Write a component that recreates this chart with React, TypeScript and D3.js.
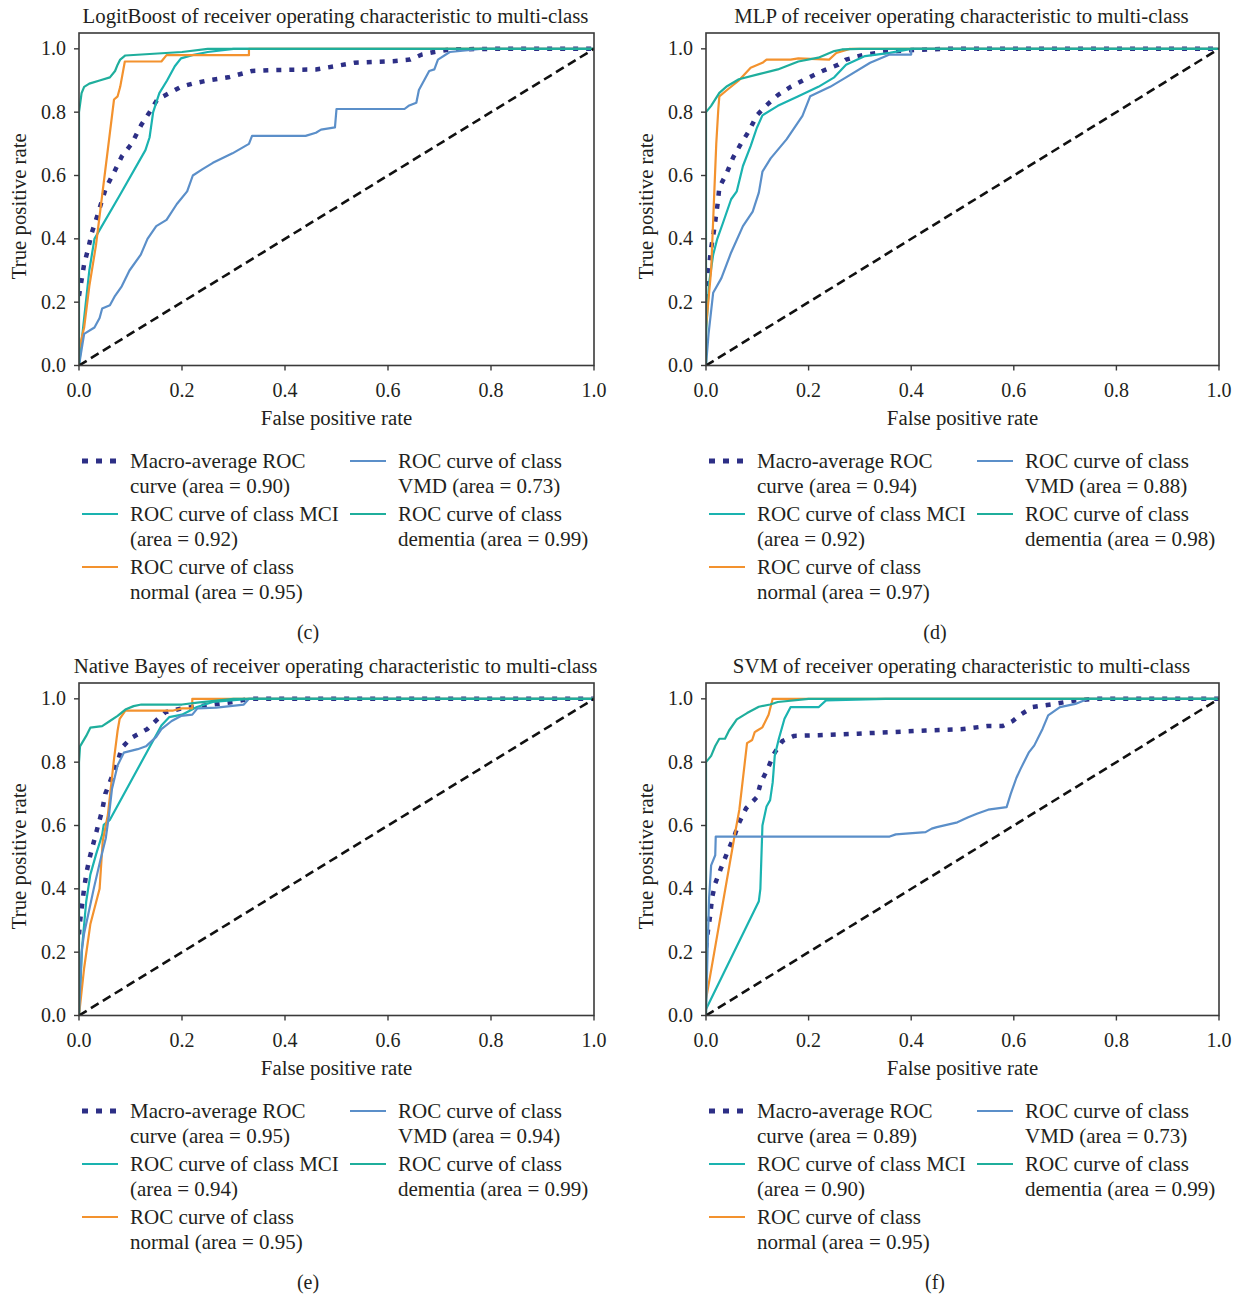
import * as d3 from 'd3';

type Pt = [number, number];

// ---- data: ROC points [fpr, tpr] ----
const diagonal: Pt[] = [[0, 0], [1, 1]];

// (c) LogitBoost
const logitMacro: Pt[] = [[0, 0.22], [0.005, 0.27], [0.01, 0.32], [0.018, 0.37], [0.025, 0.42], [0.035, 0.47], [0.052, 0.56], [0.068, 0.61], [0.083, 0.66], [0.102, 0.7], [0.121, 0.76], [0.137, 0.8], [0.152, 0.84], [0.175, 0.86], [0.198, 0.88], [0.22, 0.89], [0.25, 0.9], [0.29, 0.91], [0.336, 0.93], [0.38, 0.933], [0.46, 0.935], [0.5, 0.946], [0.535, 0.956], [0.61, 0.961], [0.643, 0.966], [0.666, 0.982], [0.69, 0.99], [0.72, 0.998], [0.8, 1], [1, 1]];
const logitMCI: Pt[] = [[0, 0], [0.01, 0.15], [0.02, 0.3], [0.03, 0.4], [0.08, 0.54], [0.129, 0.68], [0.137, 0.72], [0.144, 0.8], [0.156, 0.86], [0.171, 0.9], [0.186, 0.945], [0.198, 0.97], [0.22, 0.98], [0.25, 0.99], [0.3, 1], [1, 1]];
const logitNormal: Pt[] = [[0, 0], [0, 0.05], [0.01, 0.12], [0.02, 0.25], [0.033, 0.38], [0.068, 0.84], [0.075, 0.85], [0.08, 0.88], [0.089, 0.96], [0.16, 0.96], [0.17, 0.98], [0.33, 0.98], [0.33, 1], [1, 1]];
const logitVMD: Pt[] = [[0, 0], [0.005, 0.05], [0.01, 0.1], [0.03, 0.12], [0.04, 0.15], [0.045, 0.18], [0.06, 0.19], [0.07, 0.22], [0.083, 0.25], [0.098, 0.3], [0.12, 0.35], [0.133, 0.4], [0.15, 0.44], [0.17, 0.46], [0.19, 0.51], [0.21, 0.55], [0.221, 0.6], [0.24, 0.62], [0.26, 0.64], [0.298, 0.67], [0.33, 0.7], [0.336, 0.725], [0.44, 0.725], [0.46, 0.735], [0.47, 0.745], [0.497, 0.752], [0.5, 0.81], [0.632, 0.81], [0.64, 0.82], [0.655, 0.83], [0.66, 0.87], [0.68, 0.93], [0.69, 0.935], [0.697, 0.966], [0.72, 0.99], [0.78, 1], [1, 1]];
const logitDementia: Pt[] = [[0, 0], [0, 0.8], [0.005, 0.86], [0.01, 0.88], [0.02, 0.89], [0.04, 0.9], [0.06, 0.91], [0.07, 0.93], [0.075, 0.95], [0.08, 0.966], [0.09, 0.979], [0.2, 0.99], [0.25, 1], [1, 1]];

// (d) MLP
const mlpMacro: Pt[] = [[0, 0.21], [0.005, 0.3], [0.01, 0.37], [0.015, 0.42], [0.019, 0.467], [0.023, 0.515], [0.026, 0.562], [0.041, 0.61], [0.053, 0.657], [0.068, 0.7], [0.084, 0.741], [0.099, 0.79], [0.118, 0.822], [0.14, 0.854], [0.165, 0.88], [0.196, 0.906], [0.227, 0.93], [0.258, 0.95], [0.273, 0.966], [0.31, 0.982], [0.366, 0.993], [0.46, 1], [1, 1]];
const mlpMCI: Pt[] = [[0, 0], [0, 0.1], [0.006, 0.26], [0.014, 0.35], [0.022, 0.4], [0.033, 0.45], [0.049, 0.525], [0.06, 0.55], [0.072, 0.63], [0.087, 0.693], [0.099, 0.75], [0.11, 0.79], [0.14, 0.82], [0.18, 0.85], [0.219, 0.88], [0.25, 0.91], [0.273, 0.95], [0.31, 0.977], [0.358, 0.987], [0.4, 1], [1, 1]];
const mlpNormal: Pt[] = [[0, 0], [0, 0.12], [0.01, 0.3], [0.015, 0.5], [0.02, 0.7], [0.024, 0.81], [0.026, 0.85], [0.041, 0.87], [0.064, 0.9], [0.087, 0.94], [0.11, 0.956], [0.118, 0.966], [0.165, 0.966], [0.18, 0.97], [0.24, 0.966], [0.254, 0.987], [0.28, 1], [1, 1]];
const mlpVMD: Pt[] = [[0, 0], [0.005, 0.1], [0.014, 0.23], [0.03, 0.276], [0.049, 0.357], [0.072, 0.44], [0.091, 0.486], [0.103, 0.546], [0.11, 0.612], [0.126, 0.654], [0.157, 0.714], [0.188, 0.788], [0.203, 0.85], [0.242, 0.88], [0.273, 0.91], [0.32, 0.956], [0.358, 0.982], [0.4, 0.982], [0.4, 1], [1, 1]];
const mlpDementia: Pt[] = [[0, 0], [0, 0.8], [0.01, 0.82], [0.026, 0.861], [0.041, 0.882], [0.064, 0.904], [0.103, 0.92], [0.14, 0.935], [0.18, 0.96], [0.219, 0.972], [0.25, 0.993], [0.265, 0.998], [0.3, 1], [1, 1]];

// (e) Naive Bayes
const nbMacro: Pt[] = [[0, 0.256], [0.002, 0.296], [0.006, 0.35], [0.01, 0.403], [0.015, 0.455], [0.021, 0.5], [0.029, 0.55], [0.037, 0.6], [0.045, 0.647], [0.051, 0.7], [0.075, 0.8], [0.083, 0.846], [0.102, 0.877], [0.133, 0.905], [0.152, 0.935], [0.168, 0.958], [0.2, 0.97], [0.25, 0.98], [0.3, 0.99], [0.33, 1], [1, 1]];
const nbMCI: Pt[] = [[0, 0], [0.006, 0.215], [0.014, 0.36], [0.022, 0.445], [0.033, 0.508], [0.045, 0.571], [0.048, 0.602], [0.06, 0.618], [0.16, 0.916], [0.175, 0.942], [0.2, 0.95], [0.229, 0.974], [0.26, 0.99], [0.33, 1], [1, 1]];
const nbNormal: Pt[] = [[0, 0], [0.01, 0.15], [0.022, 0.288], [0.04, 0.4], [0.046, 0.55], [0.056, 0.633], [0.068, 0.81], [0.075, 0.9], [0.079, 0.937], [0.09, 0.963], [0.183, 0.963], [0.2, 0.97], [0.22, 0.97], [0.22, 1], [1, 1]];
const nbVMD: Pt[] = [[0, 0], [0.005, 0.2], [0.01, 0.26], [0.018, 0.32], [0.029, 0.403], [0.041, 0.487], [0.052, 0.56], [0.058, 0.63], [0.064, 0.715], [0.075, 0.79], [0.087, 0.83], [0.114, 0.841], [0.13, 0.85], [0.15, 0.88], [0.16, 0.904], [0.18, 0.93], [0.198, 0.946], [0.22, 0.95], [0.23, 0.97], [0.267, 0.972], [0.32, 0.982], [0.33, 1], [1, 1]];
const nbDementia: Pt[] = [[0, 0], [0, 0.8], [0.002, 0.85], [0.014, 0.883], [0.022, 0.909], [0.045, 0.914], [0.06, 0.93], [0.075, 0.946], [0.09, 0.966], [0.106, 0.977], [0.121, 0.982], [0.2, 0.982], [0.23, 0.988], [0.3, 1], [1, 1]];

// (f) SVM
const svmMacro: Pt[] = [[0, 0.215], [0.004, 0.27], [0.0085, 0.319], [0.0116, 0.37], [0.018, 0.417], [0.029, 0.464], [0.041, 0.513], [0.056, 0.57], [0.064, 0.607], [0.078, 0.654], [0.099, 0.689], [0.107, 0.736], [0.12, 0.778], [0.132, 0.825], [0.149, 0.867], [0.172, 0.883], [0.22, 0.885], [0.296, 0.89], [0.428, 0.9], [0.497, 0.904], [0.548, 0.914], [0.578, 0.914], [0.598, 0.93], [0.613, 0.95], [0.637, 0.974], [0.679, 0.984], [0.72, 0.995], [0.76, 1], [1, 1]];
const svmMCI: Pt[] = [[0, 0.02], [0.103, 0.361], [0.106, 0.4], [0.11, 0.6], [0.118, 0.66], [0.125, 0.68], [0.13, 0.736], [0.134, 0.82], [0.142, 0.874], [0.153, 0.937], [0.165, 0.974], [0.22, 0.974], [0.234, 0.995], [0.35, 1], [1, 1]];
const svmNormal: Pt[] = [[0, 0], [0, 0.05], [0.056, 0.57], [0.065, 0.65], [0.08, 0.86], [0.09, 0.87], [0.095, 0.895], [0.1, 0.9], [0.11, 0.91], [0.122, 0.95], [0.13, 1], [1, 1]];
const svmVMD: Pt[] = [[0, 0], [0.003, 0.2], [0.006, 0.37], [0.01, 0.474], [0.018, 0.506], [0.019, 0.565], [0.358, 0.565], [0.37, 0.572], [0.428, 0.579], [0.44, 0.59], [0.45, 0.595], [0.49, 0.61], [0.51, 0.625], [0.528, 0.637], [0.55, 0.65], [0.586, 0.658], [0.594, 0.7], [0.605, 0.75], [0.613, 0.778], [0.629, 0.83], [0.64, 0.853], [0.656, 0.905], [0.667, 0.948], [0.69, 0.974], [0.72, 0.984], [0.745, 1], [1, 1]];
const svmDementia: Pt[] = [[0, 0], [0, 0.8], [0.01, 0.82], [0.018, 0.851], [0.026, 0.874], [0.037, 0.874], [0.045, 0.9], [0.06, 0.935], [0.08, 0.955], [0.103, 0.975], [0.125, 0.982], [0.14, 0.99], [0.2, 1], [1, 1]];

const panelTitles = [
  'LogitBoost of receiver operating characteristic to multi-class',
  'MLP of receiver operating characteristic to multi-class',
  'Native Bayes of receiver operating characteristic to multi-class',
  'SVM of receiver operating characteristic to multi-class',
];
const panelCaptions = ['(c)', '(d)', '(e)', '(f)'];
const macroAreas = ['0.90', '0.94', '0.95', '0.89'];
const mciAreas = ['0.92', '0.92', '0.94', '0.90'];
const normalAreas = ['0.95', '0.97', '0.95', '0.95'];
const vmdAreas = ['0.73', '0.88', '0.94', '0.73'];
const dementiaAreas = ['0.99', '0.98', '0.99', '0.99'];
const tickValues = [0, 0.2, 0.4, 0.6, 0.8, 1.0];

const panelCurves = [
  [logitMacro, logitMCI, logitNormal, logitVMD, logitDementia],
  [mlpMacro, mlpMCI, mlpNormal, mlpVMD, mlpDementia],
  [nbMacro, nbMCI, nbNormal, nbVMD, nbDementia],
  [svmMacro, svmMCI, svmNormal, svmVMD, svmDementia],
];

const colors = {
  macro: '#2d2f86',
  mci: '#1ab3b0',
  normal: '#f3922e',
  vmd: '#5b8fc9',
  dementia: '#1fae9c',
};
const curveColors = [colors.macro, colors.mci, colors.normal, colors.vmd, colors.dementia];

const FONT = '"Liberation Serif", "DejaVu Serif", serif';
const TEXT = '#231f20';

function RocPanel({ idx, left, right, top, bottom }: { idx: number; left: number; right: number; top: number; bottom: number }) {
  const x = d3.scaleLinear().domain([0, 1]).range([left, right]);
  const y = d3.scaleLinear().domain([0, 1.05]).range([bottom, top]);
  const line = d3.line<Pt>().x(d => x(d[0])).y(d => y(d[1]));
  const curves = panelCurves[idx];
  const cx = (left + right) / 2;

  // legend entries: [color, dotted, line1, line2]
  const legend: [string, boolean, string, string][] = [
    [colors.macro, true, 'Macro-average ROC', `curve (area = ${macroAreas[idx]})`],
    [colors.mci, false, 'ROC curve of class MCI', `(area = ${mciAreas[idx]})`],
    [colors.normal, false, 'ROC curve of class', `normal (area = ${normalAreas[idx]})`],
    [colors.vmd, false, 'ROC curve of class', `VMD (area = ${vmdAreas[idx]})`],
    [colors.dementia, false, 'ROC curve of class', `dementia (area = ${dementiaAreas[idx]})`],
  ];
  const legTop = bottom + 95.5;
  const rowStep = 53;
  const lineStep = 25.5;

  return (
    <g fontFamily={FONT} fill={TEXT}>
      <text x={cx - 1} y={top - 10} textAnchor="middle" fontSize={20.8}>{panelTitles[idx]}</text>

      <clipPath id={`clip${idx}`}>
        <rect x={left} y={top} width={right - left} height={bottom - top} />
      </clipPath>
      <g clipPath={`url(#clip${idx})`}>
        {curves.map((pts, i) => (
          <path key={i} d={line(pts) ?? ''} fill="none" stroke={curveColors[i]}
            strokeWidth={i === 0 ? 4.5 : 2.2}
            strokeDasharray={i === 0 ? '5,8' : undefined}
            strokeLinejoin="round" />
        ))}
        <path d={line(diagonal) ?? ''} fill="none" stroke="#111" strokeWidth={2.6} strokeDasharray="9,5" />
      </g>

      <rect x={left} y={top} width={right - left} height={bottom - top} fill="none" stroke="#3a3a3a" strokeWidth={1.6} />

      {tickValues.map(t => (
        <g key={`x${t}`}>
          <line x1={x(t)} x2={x(t)} y1={bottom} y2={bottom + 5} stroke="#3a3a3a" strokeWidth={1.4} />
          <text x={x(t)} y={bottom + 31} textAnchor="middle" fontSize={20}>{d3.format('.1f')(t)}</text>
        </g>
      ))}
      {tickValues.map(t => (
        <g key={`y${t}`}>
          <line x1={left - 5} x2={left} y1={y(t)} y2={y(t)} stroke="#3a3a3a" strokeWidth={1.4} />
          <text x={left - 13} y={y(t)} dy="0.33em" textAnchor="end" fontSize={20}>{d3.format('.1f')(t)}</text>
        </g>
      ))}

      <text x={cx} y={bottom + 59} textAnchor="middle" fontSize={20.8}>False positive rate</text>
      <text transform={`translate(${left - 53},${(top + bottom) / 2 + 7}) rotate(-90)`} textAnchor="middle" fontSize={20.8}>True positive rate</text>

      {legend.map(([c, dotted, l1, l2], i) => {
        const col = i < 3 ? 0 : 1;
        const row = i < 3 ? i : i - 3;
        const mx = left + 3 + col * 268;
        const my = legTop + row * rowStep;
        return (
          <g key={i}>
            <line x1={mx} x2={mx + 36} y1={my} y2={my} stroke={c}
              strokeWidth={dotted ? 5 : 2.2} strokeDasharray={dotted ? '6,8' : undefined} />
            <text x={mx + 48} y={my} dy="0.32em" fontSize={21}>{l1}</text>
            <text x={mx + 48} y={my + lineStep} dy="0.32em" fontSize={21}>{l2}</text>
          </g>
        );
      })}

      <text x={left + 229} y={bottom + 267} dy="0.32em" textAnchor="middle" fontSize={20}>{panelCaptions[idx]}</text>
    </g>
  );
}

export default function App() {
  return (
    <div style={{ position: 'absolute', left: 0, top: 0 }}>
      <svg width={1243} height={1297} viewBox="0 0 1243 1297" style={{ display: 'block', background: '#fff' }}>
        <RocPanel idx={0} left={79} right={594} top={33} bottom={365.5} />
        <RocPanel idx={1} left={706} right={1219} top={33} bottom={365.5} />
        <RocPanel idx={2} left={79} right={594} top={683} bottom={1015.5} />
        <RocPanel idx={3} left={706} right={1219} top={683} bottom={1015.5} />
      </svg>
    </div>
  );
}
